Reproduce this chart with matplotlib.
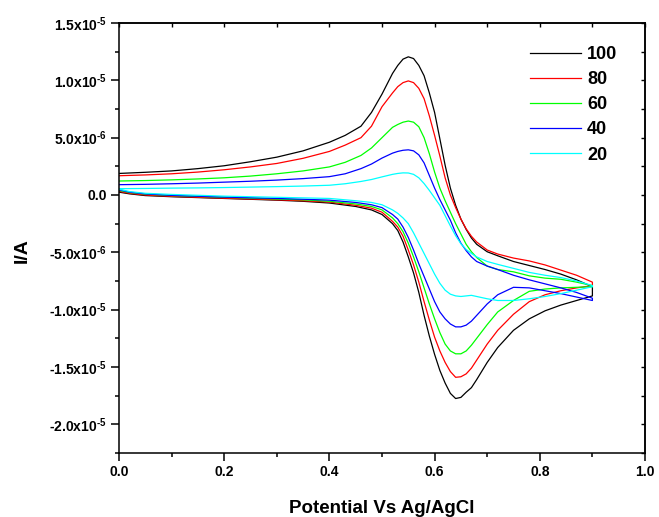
import numpy as np
import matplotlib
matplotlib.use("Agg")
import matplotlib.pyplot as plt
from matplotlib.ticker import FixedLocator, MultipleLocator

plt.rcParams['font.family'] = ['Liberation Sans', 'DejaVu Sans']
plt.rcParams['font.weight'] = 'bold'
plt.rcParams['mathtext.fontset'] = 'custom'
plt.rcParams['mathtext.rm'] = 'Liberation Sans:bold'
plt.rcParams['mathtext.bf'] = 'Liberation Sans:bold'
plt.rcParams['mathtext.default'] = 'bf'
plt.rcParams['axes.unicode_minus'] = False

# ---------------- data (current in units of 1e-6 A) ----------------
scan_labels = ["100", "80", "60", "40", "20"]
colors = ["#000000", "#ff0000", "#00ff00", "#0000ff", "#00ffff"]

E_fwd = [0.00, 0.05, 0.10, 0.15, 0.20, 0.25, 0.30, 0.35, 0.40, 0.43, 0.46, 0.48,
         0.50, 0.52, 0.53, 0.54, 0.55, 0.56, 0.57, 0.58, 0.59, 0.60, 0.61, 0.62,
         0.63, 0.64, 0.65, 0.66, 0.67, 0.68, 0.70, 0.72, 0.75, 0.78, 0.81, 0.84,
         0.87, 0.90]
E_rev = [0.90, 0.87, 0.84, 0.81, 0.78, 0.75, 0.72, 0.70, 0.68, 0.67, 0.66, 0.65,
         0.64, 0.63, 0.62, 0.61, 0.60, 0.59, 0.58, 0.57, 0.56, 0.55, 0.54, 0.53,
         0.52, 0.50, 0.48, 0.45, 0.40, 0.35, 0.30, 0.20, 0.10, 0.05, 0.02, 0.00]

I100_fwd = [1.88, 1.98, 2.10, 2.30, 2.55, 2.90, 3.30, 3.85, 4.60, 5.20, 6.00, 7.20,
            8.80, 10.60, 11.30, 11.85, 12.05, 11.90, 11.30, 10.40, 8.90, 7.20, 4.90, 2.60,
            0.60, -0.90, -2.10, -3.00, -3.75, -4.30, -4.95, -5.30, -5.80, -6.15, -6.50, -6.90,
            -7.40, -8.00]
I100_rev = [-8.80, -9.20, -9.60, -10.10, -10.80, -11.80, -13.30, -14.60, -16.10, -16.80, -17.20, -17.65,
            -17.75, -17.30, -16.40, -15.30, -13.90, -12.30, -10.50, -8.50, -6.80, -5.40, -4.10, -3.10,
            -2.50, -1.70, -1.30, -1.00, -0.70, -0.55, -0.45, -0.30, -0.15, -0.05, 0.10, 0.25]

I80_fwd = [1.68, 1.75, 1.85, 2.00, 2.20, 2.45, 2.75, 3.20, 3.80, 4.35, 5.00, 6.00,
           7.70, 8.90, 9.45, 9.80, 9.95, 9.80, 9.30, 8.40, 6.90, 5.20, 3.40, 1.50,
           0.00, -1.10, -2.10, -2.95, -3.60, -4.10, -4.80, -5.15, -5.50, -5.75, -6.10, -6.55,
           -7.00, -7.60]
I80_rev = [-7.90, -8.10, -8.35, -8.70, -9.30, -10.40, -11.80, -13.00, -14.40, -15.10, -15.60, -15.85,
           -15.90, -15.40, -14.60, -13.60, -12.40, -10.90, -9.30, -7.60, -6.10, -4.80, -3.60, -2.80,
           -2.30, -1.50, -1.15, -0.90, -0.62, -0.50, -0.42, -0.28, -0.12, 0.00, 0.15, 0.32]

I60_fwd = [1.22, 1.26, 1.32, 1.40, 1.50, 1.65, 1.85, 2.10, 2.45, 2.85, 3.45, 4.10,
           5.00, 5.90, 6.15, 6.35, 6.45, 6.35, 5.95, 5.00, 3.60, 2.00, 0.60, -0.50,
           -1.50, -2.50, -3.40, -4.30, -4.95, -5.45, -6.20, -6.50, -6.70, -7.05, -7.25, -7.35,
           -7.60, -7.90]
I60_rev = [-8.00, -8.05, -8.10, -8.20, -8.40, -9.20, -10.20, -11.30, -12.50, -13.10, -13.60, -13.85,
           -13.85, -13.60, -13.00, -12.00, -10.80, -9.50, -8.10, -6.70, -5.40, -4.20, -3.20, -2.50,
           -2.00, -1.30, -1.00, -0.78, -0.55, -0.42, -0.35, -0.20, -0.05, 0.08, 0.22, 0.40]

I40_fwd = [0.90, 0.93, 0.98, 1.04, 1.12, 1.20, 1.30, 1.43, 1.60, 1.85, 2.30, 2.70,
           3.22, 3.65, 3.80, 3.90, 3.94, 3.85, 3.50, 2.80, 1.70, 0.60, -0.40, -1.30,
           -2.20, -3.30, -4.20, -4.85, -5.40, -5.80, -6.20, -6.50, -7.00, -7.40, -7.75, -8.10,
           -8.50, -9.00]
I40_rev = [-9.20, -8.90, -8.60, -8.35, -8.10, -8.05, -8.70, -9.50, -10.50, -11.00, -11.35, -11.50,
           -11.50, -11.25, -10.80, -10.20, -9.30, -8.20, -7.10, -6.00, -4.80, -3.70, -2.80, -2.10,
           -1.70, -1.10, -0.85, -0.65, -0.45, -0.37, -0.30, -0.18, -0.03, 0.10, 0.25, 0.45]

I20_fwd = [0.55, 0.57, 0.60, 0.62, 0.65, 0.69, 0.73, 0.78, 0.85, 0.98, 1.18, 1.35,
           1.58, 1.80, 1.88, 1.93, 1.92, 1.80, 1.50, 1.00, 0.40, -0.25, -0.90, -1.80,
           -2.70, -3.55, -4.25, -4.75, -5.10, -5.40, -5.80, -6.05, -6.40, -6.75, -7.00, -7.20,
           -7.50, -7.90]
I20_rev = [-8.00, -8.30, -8.60, -8.85, -9.05, -9.20, -9.20, -9.05, -8.85, -8.75, -8.80, -8.85,
           -8.80, -8.65, -8.30, -7.70, -6.90, -6.00, -5.10, -4.20, -3.30, -2.50, -2.00, -1.60,
           -1.30, -0.85, -0.65, -0.50, -0.30, -0.25, -0.20, -0.10, 0.05, 0.15, 0.30, 0.50]

fwd_series = [I100_fwd, I80_fwd, I60_fwd, I40_fwd, I20_fwd]
rev_series = [I100_rev, I80_rev, I60_rev, I40_rev, I20_rev]

y_ticks = [1.5e-5, 1.0e-5, 5.0e-6, 0.0, -5.0e-6, -1.0e-5, -1.5e-5, -2.0e-5]
y_ticklabels = [r"1.5x10$^{\text{-}5}$", r"1.0x10$^{\text{-}5}$", r"5.0x10$^{\text{-}6}$", "0.0",
                r"-5.0x10$^{\text{-}6}$", r"-1.0x10$^{\text{-}5}$", r"-1.5x10$^{\text{-}5}$",
                r"-2.0x10$^{\text{-}5}$"]
x_ticks = [0.0, 0.2, 0.4, 0.6, 0.8, 1.0]
x_ticklabels = ["0.0", "0.2", "0.4", "0.6", "0.8", "1.0"]

# ---------------- figure ----------------
fig = plt.figure(figsize=(6.59, 5.17), dpi=100)
ax = fig.add_axes([119/659, 1 - 453/517, (645 - 119)/659, (453 - 23)/517])

for lab, col, f, r in zip(scan_labels, colors, fwd_series, rev_series):
    x = list(E_fwd) + list(E_rev)
    y = [v * 1e-6 for v in list(f) + list(r)]
    ax.plot(x, y, color=col, lw=0.9, label=lab)

ax.set_xlim(0.0, 1.0)
ax.set_ylim(-2.25e-5, 1.5e-5)

ax.xaxis.set_major_locator(FixedLocator(x_ticks))
ax.set_xticklabels(x_ticklabels)
ax.xaxis.set_minor_locator(MultipleLocator(0.1))
ax.yaxis.set_major_locator(FixedLocator(y_ticks))
ax.set_yticklabels(y_ticklabels)
ax.yaxis.set_minor_locator(MultipleLocator(2.5e-6))

ax.tick_params(which='major', direction='out', length=5.5, width=1.1,
               labelsize=10, top=False, right=False)
ax.tick_params(which='minor', direction='out', length=3, width=1.1,
               top=False, right=False)
for lbl in ax.get_xticklabels() + ax.get_yticklabels():
    lbl.set_fontweight('bold')
for sp in ax.spines.values():
    sp.set_linewidth(1.1)

# mirrored inward ticks on top and right
secx = ax.secondary_xaxis('top')
secx.xaxis.set_major_locator(MultipleLocator(0.1))
secx.tick_params(direction='in', length=3, width=1.0, labeltop=False)
secx.spines['top'].set_linewidth(1.1)
secy = ax.secondary_yaxis('right')
secy.yaxis.set_major_locator(MultipleLocator(2.5e-6))
secy.tick_params(direction='in', length=3, width=1.0, labelright=False)
secy.spines['right'].set_linewidth(1.1)

ax.set_xlabel("Potential Vs Ag/AgCl", fontsize=13.5, fontweight='bold', labelpad=15)
ax.set_ylabel("I/A", fontsize=14, fontweight='bold')
ax.yaxis.set_label_coords((31 - 119) / 526, (453 - 251) / 430)

leg = ax.legend(loc='upper left', bbox_to_anchor=(530/659, 1 - 46/517),
                bbox_transform=fig.transFigure, frameon=False, fontsize=13,
                handlelength=2.8, handletextpad=0.35, labelspacing=0.45,
                borderpad=0, borderaxespad=0)
for t in leg.get_texts():
    t.set_fontweight('bold')

fig.savefig("out.png", dpi=100)
